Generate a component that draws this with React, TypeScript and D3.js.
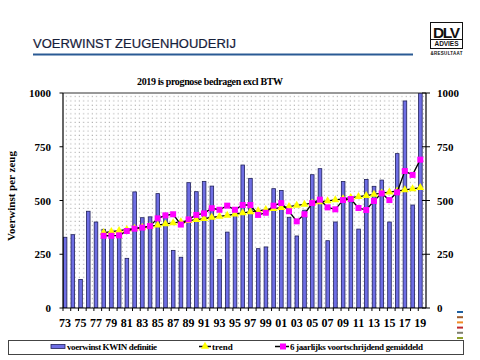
import { scaleBand, scaleLinear, line, symbol, symbolTriangle, symbolSquare } from "d3";

const years = [
  1973, 1974, 1975, 1976, 1977, 1978, 1979, 1980, 1981, 1982, 1983, 1984, 1985, 1986, 1987, 1988,
  1989, 1990, 1991, 1992, 1993, 1994, 1995, 1996, 1997, 1998, 1999, 2000, 2001, 2002, 2003, 2004,
  2005, 2006, 2007, 2008, 2009, 2010, 2011, 2012, 2013, 2014, 2015, 2016, 2017, 2018, 2019,
];

const voerwinst = [
  329, 341, 133, 450, 400, 366, 340, 340, 231, 540, 420, 424, 532, 432, 268, 236,
  583, 541, 589, 567, 226, 353, 450, 665, 603, 276, 284, 555, 547, 422, 335, 455,
  620, 648, 313, 400, 588, 494, 367, 598, 566, 595, 400, 718, 963, 479, 1000,
];

// trend and 6-year moving average start at 1978
const lineYears = years.slice(5);

const trend = [
  350, 355, 360, 365, 370, 375, 380, 385, 391, 396, 401, 406, 411, 416, 421, 426, 431, 436, 442, 447, 452,
  457, 462, 467, 472, 477, 482, 488, 493, 498, 503, 508, 513, 518, 523, 528, 534, 539, 544, 549, 554, 560,
];

const gemiddeld = [
  336, 336, 338, 358, 369, 374, 381, 417, 431, 436, 388, 412, 433, 440, 464, 457, 476, 457, 479, 479, 433,
  443, 476, 488, 450, 403, 436, 488, 504, 468, 459, 502, 507, 465, 456, 498, 533, 502, 538, 637, 619, 690,
];

const yTicks = [0, 250, 500, 750, 1000];
const xLabelYears = years.filter((y) => (y - 1973) % 2 === 0);

const decoColors = ["#1f5f9f", "#9c5a2a", "#f08a24", "#c0282d", "#7f7f6f", "#8fa02a"];

const W = 480;
const H = 360;
const left = 63;
const right = 426;
const top = 93;
const bottom = 308;

const serif = "'Liberation Serif', 'Times New Roman', serif";
const sans = "'Liberation Sans', Arial, sans-serif";

const App = () => {
  const x = scaleBand<number>().domain(years).range([left, right]).paddingInner(0);
  const y = scaleLinear().domain([0, 1000]).range([bottom, top]);
  const cx = (yr: number) => (x(yr) as number) + 2;

  const path = line<number>()
    .x((d, i) => cx(lineYears[i]))
    .y((d) => y(d));

  const tri = symbol().type(symbolTriangle).size(28)();
  const sq = symbol().type(symbolSquare).size(36)();

  return (
    <svg width={W} height={H} style={{ position: "absolute", left: 0, top: 0, background: "#fff" }}>
      <defs>
        <pattern id="dots" width="4.3" height="4.3" patternUnits="userSpaceOnUse">
          <rect x="1.5" y="1.5" width="1" height="1" fill="#9a9a9a" />
        </pattern>
        <clipPath id="plot">
          <rect x={left} y={top} width={right - left} height={bottom - top} />
        </clipPath>
      </defs>

      {/* header */}
      <text x={33} y={48} fontFamily={sans} fontSize={13} fill="#16203a" textLength={203} stroke="#16203a" strokeWidth={0.2}>
        VOERWINST ZEUGENHOUDERIJ
      </text>
      <rect x={33} y={53.5} width={380} height={2} fill="#2a5a94" />

      {/* logo */}
      <rect x={430.5} y={22.5} width={32} height={26} fill="#fff" stroke="#111" strokeWidth={1} />
      <text x={446.5} y={37.5} textAnchor="middle" fontFamily={sans} fontWeight="bold" fontSize={15.5} fill="#111" textLength={27}>
        DLV
      </text>
      <line x1={431} x2={462} y1={39.5} y2={39.5} stroke="#111" strokeWidth={1} />
      <text x={446.5} y={46.3} textAnchor="middle" fontFamily={sans} fontWeight="bold" fontSize={6.5} fill="#111" textLength={24}>
        ADVIES
      </text>
      <text x={446.5} y={55} textAnchor="middle" fontFamily={sans} fontWeight="bold" fontSize={4.5} fill="#111" textLength={32}>
        &amp;RESULTAAT
      </text>

      <text x={210} y={85} textAnchor="middle" fontFamily={serif} fontWeight="bold" fontSize={10} textLength={146}>
        2019 is prognose bedragen excl BTW
      </text>

      {/* plot background */}
      <rect x={left} y={top} width={right - left} height={bottom - top} fill="#fff" />
      <rect x={left} y={top} width={right - left} height={bottom - top} fill="url(#dots)" />

      {/* bars */}
      <g clipPath="url(#plot)">
        {years.map((yr, i) => (
          <rect
            key={yr}
            x={(x(yr) as number) + 0.3}
            y={y(voerwinst[i])}
            width={3.6}
            height={bottom - y(voerwinst[i])}
            fill="#6e6ee4"
            stroke="#20205a"
            strokeWidth={0.8}
          />
        ))}
      </g>

      {/* trend */}
      <path d={path(trend) as string} fill="none" stroke="#000" strokeWidth={1.3} />
      {trend.map((v, i) => (
        <path key={"t" + i} d={tri as string} transform={`translate(${cx(lineYears[i])},${y(v)})`} fill="#ffff00" />
      ))}

      {/* moving average */}
      <path d={path(gemiddeld) as string} fill="none" stroke="#000" strokeWidth={1.3} />
      {gemiddeld.map((v, i) => (
        <path key={"g" + i} d={sq as string} transform={`translate(${cx(lineYears[i])},${y(v)})`} fill="#ff00ff" />
      ))}

      {/* frame and axes */}
      <line x1={left} x2={right} y1={top} y2={top} stroke="#333" strokeWidth={1} />
      <line x1={left} x2={left} y1={top} y2={bottom} stroke="#000" strokeWidth={1.2} />
      <line x1={right} x2={right} y1={top} y2={bottom} stroke="#000" strokeWidth={1.2} />
      <line x1={left} x2={right} y1={bottom} y2={bottom} stroke="#000" strokeWidth={1.2} />

      {yTicks.map((t) => (
        <g key={t}>
          <line x1={left - 3.5} x2={left} y1={y(t)} y2={y(t)} stroke="#000" />
          <line x1={right - 4} x2={right + 4} y1={y(t)} y2={y(t)} stroke="#000" />
          <text x={51} y={y(t) + 4} textAnchor="end" fontFamily={serif} fontWeight="bold" fontSize={11}>
            {t}
          </text>
          <text x={437} y={y(t) + 4} fontFamily={serif} fontWeight="bold" fontSize={11}>
            {t}
          </text>
        </g>
      ))}

      {years.map((yr) => (
        <line key={"xt" + yr} x1={x(yr) as number} x2={x(yr) as number} y1={bottom} y2={bottom + 3} stroke="#000" />
      ))}
      {xLabelYears.map((yr) => (
        <text key={"xl" + yr} x={cx(yr)} y={327} textAnchor="middle" fontFamily={serif} fontWeight="bold" fontSize={12}>
          {String(yr).slice(2)}
        </text>
      ))}

      <text
        transform="translate(15,196) rotate(-90)"
        textAnchor="middle"
        fontFamily={serif}
        fontWeight="bold"
        fontSize={11}
      >
        Voerwinst per zeug
      </text>

      {/* decoration dashes */}
      {decoColors.map((c, i) => (
        <rect key={c} x={457} y={311 + i * 5.2} width={6} height={2} fill={c} />
      ))}

      {/* legend */}
      <rect x={8.5} y={340.5} width={455} height={14} fill="#fff" stroke="#444" strokeWidth={1} />
      <rect x={51} y={344.5} width={14} height={4} fill="#6e6ee4" stroke="#20205a" strokeWidth={0.8} />
      <text x={67} y={350} fontFamily={serif} fontWeight="bold" fontSize={9} textLength={90}>
        voerwinst KWIN definitie
      </text>
      <line x1={199} x2={211} y1={346.5} y2={346.5} stroke="#000" strokeWidth={1.5} />
      <path d={tri as string} transform="translate(205,346.5)" fill="#ffff00" />
      <text x={212} y={350} fontFamily={serif} fontWeight="bold" fontSize={9}>
        trend
      </text>
      <line x1={275} x2={289} y1={346.5} y2={346.5} stroke="#000" strokeWidth={1.5} />
      <path d={sq as string} transform="translate(283,346.5)" fill="#ff00ff" />
      <text x={290} y={350} fontFamily={serif} fontWeight="bold" fontSize={9} textLength={133}>
        6 jaarlijks voortschrijdend gemiddeld
      </text>
    </svg>
  );
};

export default App;
